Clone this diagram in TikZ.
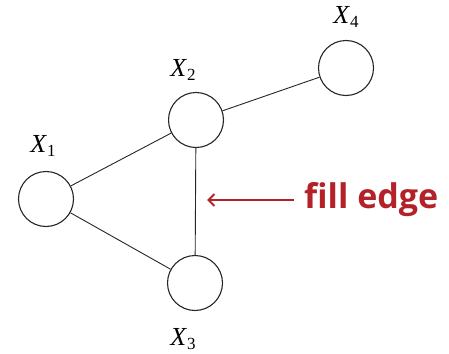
\documentclass[tikz,border=0pt]{standalone}
\usepackage{fontspec}
\setmainfont{Liberation Serif}
\newfontfamily\labelfont{Open Sans}
\usetikzlibrary{arrows.meta}
\definecolor{fillred}{RGB}{178,34,40}
\begin{document}
\begin{tikzpicture}[x=1pt,y=-1pt,
  var/.style={circle,draw=black!85,line width=1.1pt,minimum size=55pt,inner sep=0pt},
  edge/.style={draw=black!85,line width=0.9pt},
  lbl/.style={font=\fontsize{26}{26}\selectfont,inner sep=0pt},
  note/.style={font=\labelfont\bfseries\fontsize{34}{34}\selectfont,text=fillred,inner sep=0pt,anchor=west}]
\useasboundingbox (0,0) rectangle (449,353);
\node[var] (x1) at (46,199) {};
\node[var] (x2) at (196,120) {};
\node[var] (x3) at (195,283) {};
\node[var] (x4) at (346,68) {};
\node[lbl] (l1) at (43,146) {\textit{X}\raisebox{-0.35ex}{\fontsize{17}{17}\selectfont 1}};
\node[lbl] (l2) at (183,70) {\textit{X}\raisebox{-0.35ex}{\fontsize{17}{17}\selectfont 2}};
\node[lbl] (l3) at (183,339) {\textit{X}\raisebox{-0.35ex}{\fontsize{17}{17}\selectfont 3}};
\node[lbl] (l4) at (346,17) {\textit{X}\raisebox{-0.35ex}{\fontsize{17}{17}\selectfont 4}};
\draw[edge] (x1) -- (x2);
\draw[edge] (x1) -- (x3);
\draw[edge] (x2) -- (x3);
\draw[edge] (x2) -- (x4);
\node[note] (fe) at (304,200) {fill edge};
\coordinate (tip) at (207,200);
\draw[fillred,line width=2pt,-{Straight Barb[length=6pt,width=12pt]}] (fe.west) ++(-10,0) -- (tip);
\end{tikzpicture}
\end{document}
